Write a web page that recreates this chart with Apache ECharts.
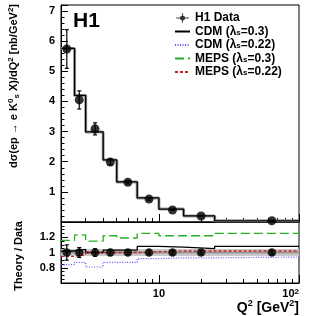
<!DOCTYPE html>
<html>
<head>
<meta charset="utf-8">
<script src="https://cdn.jsdelivr.net/npm/echarts@6/dist/echarts.min.js"></script>
<style>
html, body { margin: 0; padding: 0; background: #fff; }
#chart { width: 310px; height: 316px; }
</style>
</head>
<body>
<div id="chart"></div>
<script>
// Q^2 bins [GeV^2] and bin centres
const binEdges = [2, 2.5, 3, 4, 5, 7, 10, 15, 25, 100]
const q2Points = [2.2, 2.7, 3.5, 4.5, 6, 8.5, 12.5, 20, 64]
// H1 data, dsigma/dQ2 [nb/GeV2]
const h1Sigma = [5.74, 4.05, 3.09, 1.99, 1.32, 0.76, 0.40, 0.20, 0.04]
const h1SigmaErr = [0.64, 0.30, 0.20, 0.10, 0.06, 0.04, 0.02, 0.01, 0.005]
const h1Ratio = [1, 1, 1, 1, 1, 1, 1, 1, 1]
const h1RatioErr = [0.10, 0.065, 0.05, 0.04, 0.03, 0.03, 0.03, 0.03, 0.03]
// CDM (lambda_s = 0.3) prediction in the top panel
const cdm03Sigma = [5.76, 4.20, 2.99, 2.06, 1.33, 0.80, 0.43, 0.20, 0.04]
// theory / data
const cdm03Ratio = [1.02, 1.04, 1.00, 1.03, 1.03, 1.08, 1.07, 1.05, 1.08]
const cdm022Ratio = [0.84, 0.87, 0.81, 0.87, 0.87, 0.92, 0.93, 0.93, 0.94]
const meps03Ratio = [1.16, 1.23, 1.15, 1.22, 1.19, 1.25, 1.22, 1.22, 1.25]
const meps022Ratio = [0.95, 0.97, 1.00, 1.00, 1.00, 1.01, 1.02, 1.02, 1.02]
// data uncertainty band around 1
const bandOuter = 0.045
const bandInner = 0.012
// axis ticks
const xMajorTicks = [10, 100]
const xMinorTicks = [2, 3, 4, 5, 6, 7, 8, 9, 20, 30, 40, 50, 60, 70, 80, 90]
const xTickLabels = ['10', '10{s|2}']
const yTicksTop = [1, 2, 3, 4, 5, 6, 7]
const yTicksRatio = [0.8, 1, 1.2]

const FONT = "'Liberation Sans', Arial, Helvetica, sans-serif"
const lx = v => Math.log10(v)
const xMin = lx(binEdges[0])
const xMax = lx(binEdges[binEdges.length - 1])

// histogram as step line: value held until next edge
function stepData(vals) {
  return binEdges.map((e, i) => [lx(e), vals[Math.min(i, vals.length - 1)]])
}
function pointData(ys, errs) {
  return q2Points.map((q, i) => [lx(q), ys[i], ys[i] - errs[i], ys[i] + errs[i]])
}

function errorBars(params, api) {
  const x = api.value(0)
  const top = api.coord([x, api.value(3)])
  const bot = api.coord([x, api.value(2)])
  const st = { stroke: '#000', lineWidth: 1.2 }
  return {
    type: 'group',
    children: [
      { type: 'line', shape: { x1: top[0], y1: top[1], x2: bot[0], y2: bot[1] }, style: st },
      { type: 'line', shape: { x1: top[0] - 2, y1: top[1], x2: top[0] + 2, y2: top[1] }, style: st },
      { type: 'line', shape: { x1: bot[0] - 2, y1: bot[1], x2: bot[0] + 2, y2: bot[1] }, style: st }
    ]
  }
}

function band(params, api) {
  const p0 = api.coord([api.value(0), api.value(3)])
  const p1 = api.coord([api.value(1), api.value(2)])
  return {
    type: 'rect',
    shape: { x: p0[0], y: p0[1], width: p1[0] - p0[0], height: p1[1] - p0[1] },
    style: { fill: params.dataIndex === 0 ? '#c8c8c8' : '#969696' }
  }
}

function xAxis(gridIndex, ticks, len, opts) {
  return Object.assign({
    type: 'value', gridIndex: gridIndex, position: 'bottom', min: xMin, max: xMax,
    axisLine: { show: true, lineStyle: { color: '#000', width: 1 } },
    axisTick: { show: true, inside: true, length: len, customValues: ticks.map(lx), lineStyle: { color: '#000' } },
    axisLabel: { show: false },
    splitLine: { show: false }
  }, opts || {})
}

const labelStyle = { color: '#000', fontFamily: FONT, fontWeight: 'bold', fontSize: 11 }
const supStyle = { fontFamily: FONT, fontWeight: 'bold', fontSize: 8, verticalAlign: 'top', lineHeight: 14 }
const subStyle = { fontFamily: FONT, fontWeight: 'bold', fontSize: 8, verticalAlign: 'bottom', lineHeight: 14 }

const legendNames = {
  data: 'H1 Data',
  cdm03: '{t|CDM (λ}{s|s}{t|=0.3)}',
  cdm022: '{t|CDM (λ}{s|s}{t|=0.22)}',
  meps03: '{t|MEPS (λ}{s|s}{t|=0.3)}',
  meps022: '{t|MEPS (λ}{s|s}{t|=0.22)}'
}
const noSymbol = { opacity: 0 }

const near = (v, list) => list.some(t => Math.abs(t - v) < 1e-6)

const option = {
  animation: false,
  backgroundColor: '#fff',
  grid: [
    { left: 61, right: 11, top: 5, height: 217, show: true, borderColor: '#000', borderWidth: 1 },
    { left: 61, right: 11, top: 222, height: 61, show: true, borderColor: '#000', borderWidth: 1 }
  ],
  xAxis: [
    xAxis(0, xMinorTicks, 4),
    xAxis(0, xMajorTicks, 8, { axisLine: { show: false } }),
    xAxis(1, xMinorTicks, 4),
    xAxis(1, xMajorTicks, 8, {
      axisLine: { show: false },
      axisLabel: {
        show: true, margin: 5, customValues: xMajorTicks.map(lx), alignMaxLabel: 'right',
        formatter: v => xTickLabels[Math.round(v) - 1],
        ...labelStyle,
        rich: { s: { ...supStyle, lineHeight: 12 } }
      }
    })
  ],
  yAxis: [
    {
      type: 'value', gridIndex: 0, min: 0, max: 7.2, interval: 1,
      axisLine: { show: true, lineStyle: { color: '#000' } },
      axisTick: { show: true, inside: true, length: 7, lineStyle: { color: '#000' } },
      minorTick: { show: true, splitNumber: 5, length: 3.5, lineStyle: { color: '#000' } },
      axisLabel: { margin: 6, formatter: v => near(v, yTicksTop) ? String(v) : '', ...labelStyle },
      splitLine: { show: false }
    },
    {
      type: 'value', gridIndex: 1, min: 0.6, max: 1.4, interval: 0.2,
      axisLine: { show: true, lineStyle: { color: '#000' } },
      axisTick: { show: true, inside: true, length: 7, lineStyle: { color: '#000' } },
      minorTick: { show: true, splitNumber: 4, length: 3.5, lineStyle: { color: '#000' } },
      axisLabel: { margin: 6, formatter: v => near(v, yTicksRatio) ? String(+v.toFixed(1)) : '', ...labelStyle },
      splitLine: { show: false }
    }
  ],
  legend: {
    orient: 'vertical', left: 169, top: 7, itemWidth: 15, itemHeight: 10, itemGap: 0.5,
    selectedMode: false,
    data: [
      { name: 'data', icon: 'path://M0,11 L30,11 L30,13 L0,13 Z M14,0 L16,0 L16,24 L14,24 Z M15,6 A6,6 0 1,1 15,18 A6,6 0 1,1 15,6 Z' },
      { name: 'cdm03', itemStyle: noSymbol },
      { name: 'cdm022', itemStyle: noSymbol },
      { name: 'meps03', itemStyle: noSymbol },
      { name: 'meps022', itemStyle: noSymbol }
    ],
    formatter: name => legendNames[name],
    textStyle: {
      color: '#000', fontFamily: FONT, fontWeight: 'bold', fontSize: 12, lineHeight: 10,
      rich: {
        t: { fontFamily: FONT, fontWeight: 'bold', fontSize: 12, lineHeight: 10 },
        s: { fontFamily: FONT, fontWeight: 'bold', fontSize: 8, verticalAlign: 'bottom', lineHeight: 8, padding: [4, 0, 0, 0] }
      }
    }
  },
  graphic: [
    { type: 'text', left: 73, top: 11, style: { text: 'H1', font: 'bold 21px ' + FONT, fill: '#000' } },
    {
      type: 'text', x: 14, y: 86, rotation: Math.PI / 2,
      style: {
        text: 'dσ(ep → e K{sup|0}{sub|s} X)/dQ{sup|2} [nb/GeV{sup|2}]',
        font: 'bold 11px ' + FONT, fill: '#000', align: 'center', verticalAlign: 'middle', lineHeight: 14,
        rich: { sup: supStyle, sub: subStyle }
      }
    },
    {
      type: 'text', x: 19, y: 256, rotation: Math.PI / 2,
      style: { text: 'Theory / Data', font: 'bold 11px ' + FONT, fill: '#000', align: 'center', verticalAlign: 'middle' }
    },
    {
      type: 'text', x: 299, y: 308,
      style: {
        text: 'Q{sup|2} [GeV{sup|2}]', font: 'bold 14px ' + FONT, fill: '#000', align: 'right', verticalAlign: 'middle',
        lineHeight: 17,
        rich: { sup: { ...supStyle, fontSize: 9, lineHeight: 17 } }
      }
    }
  ],
  series: [
    // top panel
    {
      type: 'line', xAxisIndex: 0, yAxisIndex: 0, step: 'end', symbol: 'none', silent: true, z: 1,
      data: stepData(cdm03Sigma), lineStyle: { color: '#9a9a9a', width: 3 }
    },
    {
      name: 'cdm03', type: 'line', xAxisIndex: 0, yAxisIndex: 0, step: 'end', symbol: 'none', z: 2,
      data: stepData(cdm03Sigma), itemStyle: { color: '#000' }, lineStyle: { color: '#000', width: 1.3 }
    },
    {
      type: 'custom', xAxisIndex: 0, yAxisIndex: 0, z: 4, renderItem: errorBars,
      data: pointData(h1Sigma, h1SigmaErr)
    },
    {
      name: 'data', type: 'scatter', xAxisIndex: 0, yAxisIndex: 0, z: 5, symbolSize: 9,
      itemStyle: { color: '#000' }, data: pointData(h1Sigma, h1SigmaErr).map(d => [d[0], d[1]])
    },
    // ratio panel
    {
      type: 'custom', xAxisIndex: 2, yAxisIndex: 1, z: 1, renderItem: band, silent: true,
      data: [[xMin, xMax, 1 - bandOuter, 1 + bandOuter], [xMin, xMax, 1 - bandInner, 1 + bandInner]]
    },
    {
      name: 'cdm03', type: 'line', xAxisIndex: 2, yAxisIndex: 1, step: 'end', symbol: 'none', z: 3,
      data: stepData(cdm03Ratio), itemStyle: { color: '#000' }, lineStyle: { color: '#000', width: 1.3 }
    },
    {
      name: 'cdm022', type: 'line', xAxisIndex: 2, yAxisIndex: 1, step: 'end', symbol: 'none', z: 3,
      data: stepData(cdm022Ratio), itemStyle: { color: '#5555ff' },
      lineStyle: { color: '#5555ff', width: 1.2, type: [1, 1.5] }
    },
    {
      name: 'meps03', type: 'line', xAxisIndex: 2, yAxisIndex: 1, step: 'end', symbol: 'none', z: 3,
      data: stepData(meps03Ratio), itemStyle: { color: '#22b022' },
      lineStyle: { color: '#22b022', width: 1.3, type: [9, 4] }
    },
    {
      name: 'meps022', type: 'line', xAxisIndex: 2, yAxisIndex: 1, step: 'end', symbol: 'none', z: 3,
      data: stepData(meps022Ratio), itemStyle: { color: '#cc2020' },
      lineStyle: { color: '#cc2020', width: 1.3, type: [3, 2] }
    },
    {
      type: 'custom', xAxisIndex: 2, yAxisIndex: 1, z: 4, renderItem: errorBars,
      data: pointData(h1Ratio, h1RatioErr)
    },
    {
      name: 'data', type: 'scatter', xAxisIndex: 2, yAxisIndex: 1, z: 5, symbolSize: 8.5,
      itemStyle: { color: '#000' }, data: pointData(h1Ratio, h1RatioErr).map(d => [d[0], d[1]])
    }
  ]
}

const chart = echarts.init(document.getElementById('chart'))
chart.setOption(option)
window.addEventListener('resize', () => chart.resize())
</script>
</body>
</html>
